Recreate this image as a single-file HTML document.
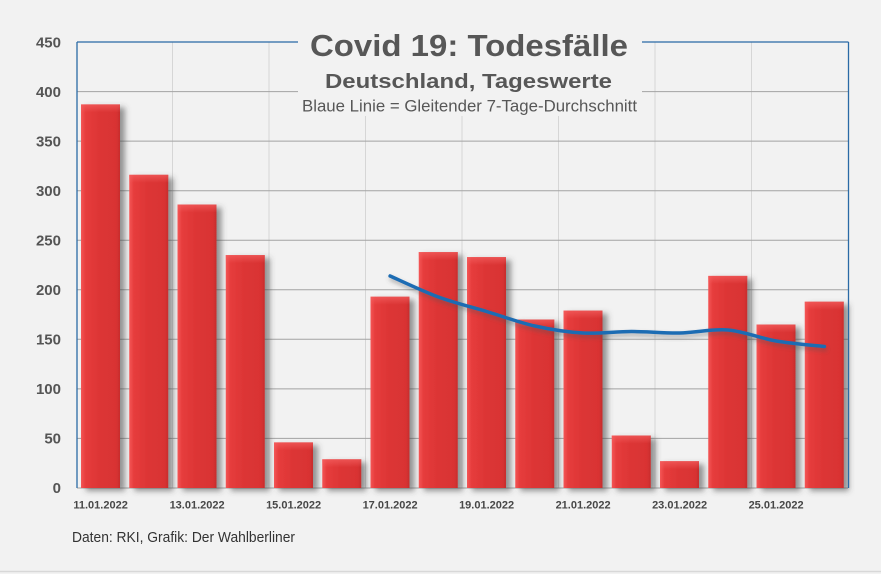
<!DOCTYPE html>
<html><head><meta charset="utf-8"><style>
html,body{margin:0;padding:0;background:#f2f2f2;}
svg{display:block;}
</style></head><body>
<svg width="881" height="574" viewBox="0 0 881 574" xmlns="http://www.w3.org/2000/svg" font-family="'Liberation Sans', Arial, sans-serif">
<defs>
<linearGradient id="bg" x1="0" y1="0" x2="1" y2="0">
<stop offset="0" stop-color="#f45656"/>
<stop offset="0.12" stop-color="#e63c3c"/>
<stop offset="0.5" stop-color="#dc3535"/>
<stop offset="0.9" stop-color="#d93333"/>
<stop offset="1" stop-color="#c82c2c"/>
</linearGradient>
<linearGradient id="tg" x1="0" y1="0" x2="0" y2="1">
<stop offset="0" stop-color="#f46060" stop-opacity="0.7"/>
<stop offset="1" stop-color="#f46060" stop-opacity="0"/>
</linearGradient>
<filter id="sh" x="-20%" y="-5%" width="160%" height="115%">
<feDropShadow dx="5" dy="3" stdDeviation="3" flood-color="#444" flood-opacity="0.55"/>
</filter>
<filter id="lsh" x="-5%" y="-20%" width="110%" height="160%">
<feDropShadow dx="1" dy="3" stdDeviation="2" flood-color="#555" flood-opacity="0.45"/>
</filter>
</defs>
<rect x="0" y="0" width="881" height="574" fill="#f2f2f2"/>
<line x1="0" y1="571.5" x2="881" y2="571.5" stroke="#d8d8d8" stroke-width="1.5"/>

<!-- vertical gridlines -->
<g stroke="#d6d6d6" stroke-width="1">
<line x1="172.5" y1="42" x2="172.5" y2="488"/>
<line x1="269" y1="42" x2="269" y2="488"/>
<line x1="365.5" y1="42" x2="365.5" y2="488"/>
<line x1="462" y1="42" x2="462" y2="488"/>
<line x1="558.5" y1="42" x2="558.5" y2="488"/>
<line x1="655" y1="42" x2="655" y2="488"/>
<line x1="751.5" y1="42" x2="751.5" y2="488"/>
</g>
<!-- horizontal gridlines -->
<g stroke="#a3a3a3" stroke-width="1">
<line x1="77" y1="91.6" x2="848" y2="91.6"/>
<line x1="77" y1="141.1" x2="848" y2="141.1"/>
<line x1="77" y1="190.7" x2="848" y2="190.7"/>
<line x1="77" y1="240.2" x2="848" y2="240.2"/>
<line x1="77" y1="289.8" x2="848" y2="289.8"/>
<line x1="77" y1="339.3" x2="848" y2="339.3"/>
<line x1="77" y1="388.9" x2="848" y2="388.9"/>
<line x1="77" y1="438.4" x2="848" y2="438.4"/>
<line x1="77" y1="488" x2="848" y2="488"/>
</g>

<!-- bars -->
<g filter="url(#sh)" fill="url(#bg)">
<rect x="81" y="104.4" width="39" height="383.6"/>
<rect x="129.25" y="174.8" width="39" height="313.2"/>
<rect x="177.5" y="204.5" width="39" height="283.5"/>
<rect x="225.75" y="255.1" width="39" height="232.9"/>
<rect x="274" y="442.4" width="39" height="45.6"/>
<rect x="322.25" y="459.3" width="39" height="28.7"/>
<rect x="370.5" y="296.7" width="39" height="191.3"/>
<rect x="418.75" y="252.1" width="39" height="235.9"/>
<rect x="467" y="257.1" width="39" height="230.9"/>
<rect x="515.25" y="319.5" width="39" height="168.5"/>
<rect x="563.5" y="310.6" width="39" height="177.4"/>
<rect x="611.75" y="435.5" width="39" height="52.5"/>
<rect x="660" y="461.2" width="39" height="26.8"/>
<rect x="708.25" y="275.9" width="39" height="212.1"/>
<rect x="756.5" y="324.5" width="39" height="163.5"/>
<rect x="804.75" y="301.7" width="39" height="186.3"/>
</g>
<g fill="url(#tg)">
<rect x="81" y="104.4" width="39" height="8"/>
<rect x="129.25" y="174.8" width="39" height="8"/>
<rect x="177.5" y="204.5" width="39" height="8"/>
<rect x="225.75" y="255.1" width="39" height="8"/>
<rect x="274" y="442.4" width="39" height="8"/>
<rect x="322.25" y="459.3" width="39" height="8"/>
<rect x="370.5" y="296.7" width="39" height="8"/>
<rect x="418.75" y="252.1" width="39" height="8"/>
<rect x="467" y="257.1" width="39" height="8"/>
<rect x="515.25" y="319.5" width="39" height="8"/>
<rect x="563.5" y="310.6" width="39" height="8"/>
<rect x="611.75" y="435.5" width="39" height="8"/>
<rect x="660" y="461.2" width="39" height="8"/>
<rect x="708.25" y="275.9" width="39" height="8"/>
<rect x="756.5" y="324.5" width="39" height="8"/>
<rect x="804.75" y="301.7" width="39" height="8"/>
</g>

<!-- moving average line -->
<path filter="url(#lsh)" fill="none" stroke="#1d6cb3" stroke-width="3.5" stroke-linecap="round" stroke-linejoin="round"
d="M390.1,276 C398.2,279.5 422.3,291.1 438.4,297 C454.5,302.9 470.5,306.7 486.6,311.5 C502.7,316.3 518.8,322.4 534.9,326 C551,329.6 567,332.1 583.1,333 C599.2,333.9 615.3,331.5 631.4,331.5 C647.5,331.5 663.5,333.25 679.6,333 C695.7,332.75 711.8,328.7 727.9,330 C744,331.3 760,338.25 776.1,341 C792.2,343.75 816.4,345.6 824.4,346.5"/>

<!-- plot border -->
<line x1="77" y1="42" x2="77" y2="488" stroke="#2a6aa6" stroke-width="1.3"/>
<line x1="77" y1="42" x2="848.5" y2="42" stroke="#2a6aa6" stroke-width="1.3"/>
<line x1="848.5" y1="42" x2="848.5" y2="488" stroke="#2a6aa6" stroke-width="1.3"/>

<!-- title box -->
<rect x="298" y="26" width="344" height="90" fill="#f2f2f2"/>
<g fill="#575757" text-anchor="middle">
<text x="469" y="56" font-size="31" font-weight="bold" textLength="318" lengthAdjust="spacingAndGlyphs">Covid 19: Todesfälle</text>
<text x="468.5" y="88" font-size="20" font-weight="bold" textLength="287" lengthAdjust="spacingAndGlyphs">Deutschland, Tageswerte</text>
<text x="469.5" y="111.5" font-size="16.5" textLength="335" lengthAdjust="spacingAndGlyphs">Blaue Linie = Gleitender 7-Tage-Durchschnitt</text>
</g>

<!-- y axis labels -->
<g fill="#555" font-size="15" font-weight="bold" text-anchor="end">
<text x="61" y="47.5">450</text>
<text x="61" y="97">400</text>
<text x="61" y="146.5">350</text>
<text x="61" y="196">300</text>
<text x="61" y="245.5">250</text>
<text x="61" y="295">200</text>
<text x="61" y="344.5">150</text>
<text x="61" y="394">100</text>
<text x="61" y="443.5">50</text>
<text x="61" y="493">0</text>
</g>

<!-- x axis labels -->
<g fill="#474747" font-size="11" font-weight="bold" text-anchor="middle">
<text x="100.6" y="508.5">11.01.2022</text>
<text x="197.1" y="508.5">13.01.2022</text>
<text x="293.6" y="508.5">15.01.2022</text>
<text x="390.1" y="508.5">17.01.2022</text>
<text x="486.6" y="508.5">19.01.2022</text>
<text x="583.1" y="508.5">21.01.2022</text>
<text x="679.6" y="508.5">23.01.2022</text>
<text x="776.1" y="508.5">25.01.2022</text>
</g>

<text x="72" y="542" fill="#333" font-size="14.5" textLength="223" lengthAdjust="spacingAndGlyphs">Daten: RKI, Grafik: Der Wahlberliner</text>
</svg>
</body></html>
